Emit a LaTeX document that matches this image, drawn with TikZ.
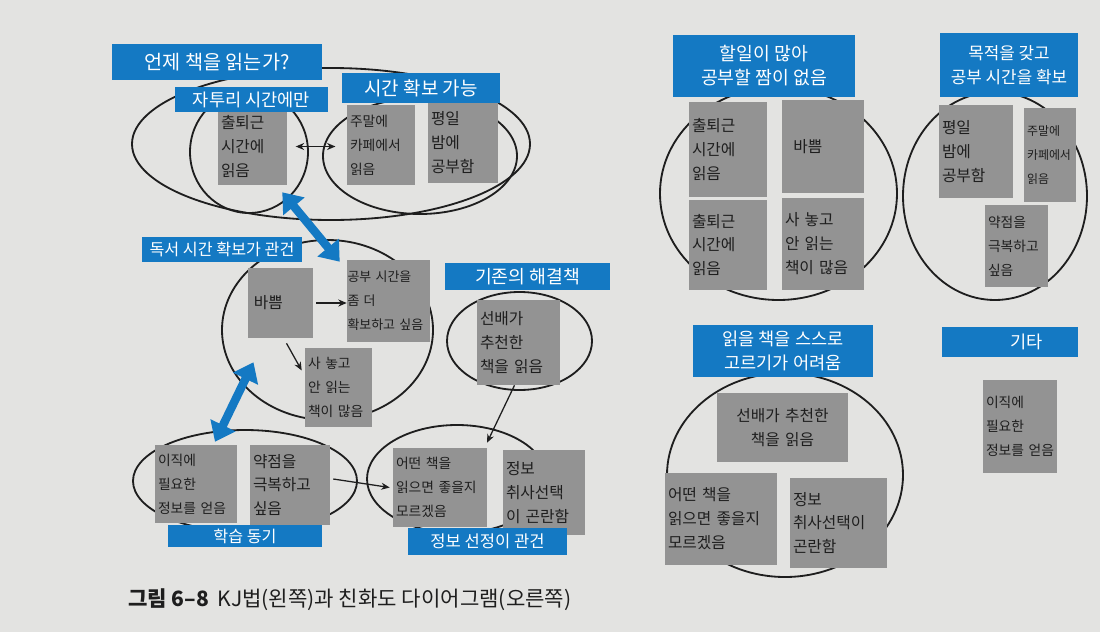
\documentclass[tikz,border=0pt]{standalone}
\usepackage{fontspec}
\setmainfont{Noto Sans CJK KR}
\usetikzlibrary{arrows.meta,shapes.geometric,positioning,calc}
\definecolor{kjblue}{HTML}{1479C3}
\definecolor{cardgray}{HTML}{939393}
\definecolor{cardtext}{HTML}{1E1E1E}
\definecolor{paper}{HTML}{E3E3E1}
\newcommand{\cardfont}{\fontsize{11.2}{17}\selectfont}
\newcommand{\tightfont}{\fontsize{9.8}{17}\selectfont}
\newcommand{\barfont}{\fontsize{12.5}{16.5}\selectfont}
\tikzset{
  ring/.style 2 args={ellipse, draw=cardtext, line width=1.3pt, inner sep=0pt,
    minimum width=#1*0.025cm, minimum height=#2*0.025cm},
  card/.style 2 args={rectangle, fill=cardgray, text=cardtext, font=\cardfont,
    align=left, inner xsep=3*0.025cm, inner ysep=0pt, text width={(#1-6)*0.025cm},
    minimum height=#2*0.025cm},
  bar/.style 2 args={rectangle, fill=kjblue, text=white, font=\barfont,
    align=center, inner sep=0pt, minimum width=#1*0.025cm, minimum height=#2*0.025cm},
  link/.style={draw=cardtext, line width=0.9pt, -{Stealth[length=6pt,width=5pt]}},
  bothlink/.style={draw=cardtext, line width=0.9pt,
    {Stealth[length=6pt,width=5pt]}-{Stealth[length=6pt,width=5pt]}},
  bluearrow/.style={draw=kjblue, line width=6pt,
    {Triangle[length=13pt,width=19pt]}-{Triangle[length=13pt,width=19pt]}},
}

\begin{document}
\begin{tikzpicture}[x=0.025cm,y=-0.025cm]
  \fill[paper] (0,0) rectangle (1100,632);  % page

  % KJ method (left): groups
  \node[ring={398}{152}] (whenring) at (331,144) {};
  \node[ring={118}{122}] (spare) at (249,152) {};
  \node[ring={194}{116}] (secure) at (420,156) {};
  \node[ring={211}{180}] (readring) at (327.5,330) {};
  \node[ring={145}{98}] (oldring) at (519.5,341) {};
  \node[ring={224}{102}] (motive) at (245,481) {};
  \node[ring={180}{108}] (select) at (457,479) {};

  % affinity diagram (right): groups
  \node[ring={237}{213}] (busyring) at (778.5,193.5) {};
  \node[ring={184}{208}] (goalring) at (995,196) {};
  \node[ring={236}{204}] (pickring) at (785,475) {};

  % left cards
  \node[card={69}{77}] (commute) at (252.5,146.5) {출퇴근\\시간에\\읽음};
  \node[card={68}{80}, font=\tightfont] (weekend) at (381,145) {주말에\\카페에서\\읽음};
  \node[card={70}{81}] (weeknight) at (463,142.5) {평일\\밤에\\공부함};
  \node[card={65}{70}] (busy) at (280.5,303) {\hspace{2pt}바쁨};
  \node[card={83}{82}, font=\fontsize{9.2}{17}\selectfont, inner xsep=0.5*0.025cm,
        text width=82*0.025cm] (wantmore) at (388.5,301) {공부 시간을\\좀 더\\확보하고~싶음};
  \node[card={67}{79}, font=\tightfont] (unread) at (338.5,387.5) {사 놓고\\안 읽는\\책이 많음};
  \node[card={83}{85}] (senior) at (518.5,342.5) {선배가\\추천한\\책을 읽음};
  \node[card={82}{78}, font=\tightfont] (jobinfo) at (196,484) {이직에\\필요한\\정보를 얻음};
  \node[card={80}{80}] (weak) at (290,485) {약점을\\극복하고\\싶음};
  \node[card={94}{79}, font=\tightfont] (whichbook) at (440,487.5) {어떤 책을\\읽으면 좋을지\\모르겠음};
  \node[card={82}{85}] (sortout) at (544,492.5) {정보\\취사선택\\이 곤란함};

  % right cards
  \node[card={78}{95}] (rcommute) at (728,149.5) {출퇴근\\시간에\\읽음};
  \node[card={82}{93}] (rbusy) at (823,146.5) {\hspace{6pt}바쁨};
  \node[card={78}{90}] (rcommutetoo) at (728,245) {출퇴근\\시간에\\읽음};
  \node[card={82}{92}] (runread) at (823,244) {사 놓고\\안 읽는\\책이 많음};
  \node[card={74}{93}] (rweeknight) at (976,151.5) {평일\\밤에\\공부함};
  \node[card={52}{94}, font=\fontsize{8.5}{17}\selectfont] (rweekend) at (1050,155) {주말에\\카페에서\\읽음};
  \node[card={63}{82}, font=\tightfont] (rweak) at (1016.5,246) {약점을\\극복하고\\싶음};
  \node[card={131}{69}, align=center] (rsenior) at (782.5,427.5) {선배가 추천한\\책을 읽음};
  \node[card={112}{92}] (rwhich) at (721,519) {어떤 책을\\읽으면 좋을지\\모르겠음};
  \node[card={97}{90}] (rsort) at (838.5,523) {정보\\취사선택이\\곤란함};
  \node[card={74}{93}, font=\tightfont] (rjob) at (1020,426.5) {이직에\\필요한\\정보를 얻음};

  % left labels
  \node[bar={210}{36}, font=\fontsize{14}{16}\selectfont] (when) at (217,62) {언제 책을 읽는가?};
  \node[bar={153}{25}] (sparebar) at (251.5,99.5) {자투리 시간에만};
  \node[bar={158}{30}, font=\fontsize{13.5}{16}\selectfont] (securebar) at (421,88) {시간 확보 가능};
  \node[bar={160}{25}, font=\fontsize{11.5}{14}\selectfont] (readbar) at (222,249.5) {독서 시간 확보가 관건};
  \node[bar={165}{27}, font=\fontsize{13}{16}\selectfont] (oldbar) at (527.5,276.5) {기존의 해결책};
  \node[bar={154}{22}, font=\fontsize{11.5}{14}\selectfont] (motivebar) at (245,536) {학습 동기};
  \node[bar={159}{27}, font=\fontsize{11.8}{14}\selectfont] (selectbar) at (487.5,541.5) {정보 선정이 관건};

  % right labels
  \node[bar={182}{62}, font=\fontsize{13}{17}\selectfont] (busybar) at (764,66) {할일이 많아\\공부할 짬이 없음};
  \node[bar={138}{64}, font=\fontsize{12}{17}\selectfont] (goalbar) at (1009,65) {목적을 갖고\\공부 시간을 확보};
  \node[bar={180}{52}, font=\fontsize{12.5}{17}\selectfont] (pickbar) at (783,351) {읽을 책을 스스로\\고르기가 어려움};
  \node[bar={136}{30}] (etcbar) at (1010,342) {\hspace{24pt}기타};

  % relations
  \draw[bothlink, shorten <=6pt, shorten >=8pt] (commute.east) -- (commute.east -| weekend.west);
  \draw[link, shorten <=2pt] (busy.east) -- (busy.east -| wantmore.west);
  \draw[link] ([shift={(6,5)}]busy.south) -- ([shift={(-3,-17)}]unread.west);
  \draw[link] ([shift={(-4,0)}]senior.south) -- ([shift={(47,-5)}]whichbook.north);
  \draw[link] ([shift={(3,-6)}]weak.east) -- ([shift={(-3,0)}]whichbook.west);
  \draw[bluearrow] ([shift={(-5,7)}]commute.south east) -- ([shift={(-7,2)}]wantmore.north west);
  \draw[bluearrow] ([shift={(-27,24)}]busy.south) -- ([shift={(19,-3)}]jobinfo.north);

  % caption
  \node[anchor=west, inner sep=0pt, text=cardtext, font=\fontsize{15}{18}\selectfont] (caption) at (128,600)
    {\textbf{그림 6–8}\, KJ법(왼쪽)과 친화도 다이어그램(오른쪽)};
\end{tikzpicture}
\end{document}
